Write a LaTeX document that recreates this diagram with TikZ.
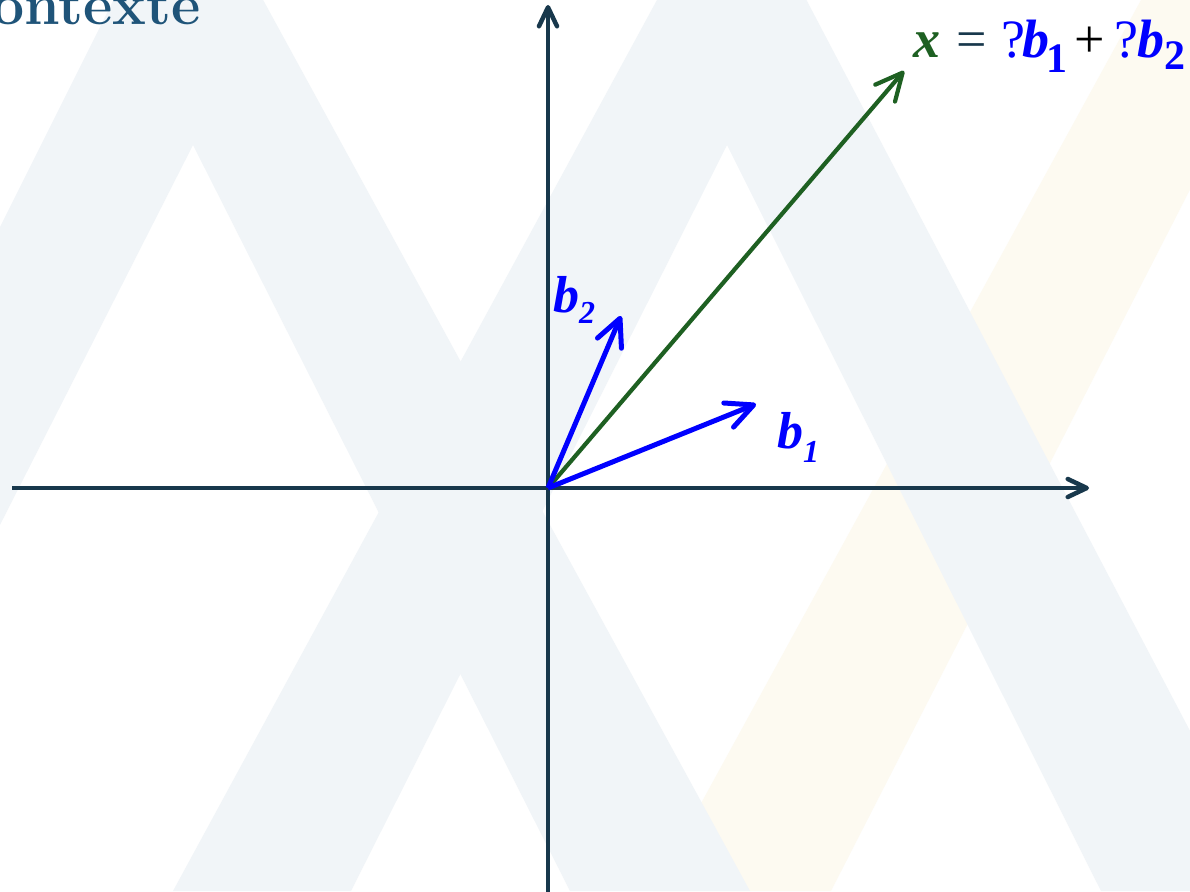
\documentclass[tikz,border=0pt]{standalone}
\usepackage{fontspec}
\newfontfamily\tnr{Liberation Serif}
\usetikzlibrary{arrows.meta}
\definecolor{navy}{RGB}{24,56,76}
\definecolor{vgreen}{RGB}{30,96,34}
\definecolor{vblue}{RGB}{0,0,255}
\definecolor{wmgray}{RGB}{241,245,248}
\definecolor{wmyellow}{RGB}{253,250,241}
\definecolor{titleblue}{RGB}{31,84,121}
\newcommand{\putat}[2]{\rlap{\hspace{#1}#2}}
\begin{document}
\begin{tikzpicture}[x=1pt,y=-1pt,
  axis/.style={draw=navy,line width=4.5pt,-{Straight Barb[length=19pt,width=18pt,round]}},
  vec/.style={line width=5pt,-{Straight Barb[length=27pt,width=26pt,round]}},
  lbl/.style={inner sep=0pt,anchor=base west,font=\tnr\bfseries\itshape}]
\useasboundingbox (0,0) rectangle (1190,891);
\begin{scope}
\clip (0,0) rectangle (1190,891);
\fill[white] (0,0) rectangle (1190,891);
\fill[wmyellow] (653,891) -- (1141,0) -- (1287,0) -- (831,891) -- cycle;
\fill[wmgray] (-332,891) -- (185,-143) -- (750,891) -- (570,891) -- (193,145) -- (-186,891) -- cycle;
\fill[wmgray] (173,891) -- (733,-140) -- (1274,891) -- (1101,891) -- (727,145) -- (351,891) -- cycle;
\end{scope}
\node[inner sep=0pt,anchor=base east,text=titleblue,font=\bfseries\fontsize{57}{60}\selectfont\addfontfeatures{FakeBold=1.2}] (title) at (201,25) {Contexte};
\coordinate (O) at (548,488);
\coordinate (xL) at (12,488);
\coordinate (xR) at (1089,488);
\coordinate (yB) at (548,893);
\coordinate (yT) at (548,5);
\coordinate (B1) at (756,404);
\coordinate (B2) at (621,316);
\coordinate (X) at (904,71);
\draw[axis] (xL) -- (xR);
\draw[axis] (yB) -- (yT);
\draw[vec,draw=vgreen,line width=4.2pt] (O) -- (X);
\draw[vec,draw=vblue] (O) -- (B1);
\draw[vec,draw=vblue] (O) -- (B2);
\node[lbl,text=vblue] (lb1) at (777,448) {\fontsize{52}{52}\selectfont b\raisebox{-14pt}{\fontsize{32}{32}\selectfont 1}};
\node[lbl,text=vblue] (lb2) at (553,312) {\fontsize{52}{52}\selectfont b\raisebox{-11pt}{\fontsize{32}{32}\selectfont 2}};
\node[lbl] (eq) at (913,58) {\fontsize{54}{54}\selectfont
\putat{0pt}{\textcolor{vgreen}{x}}%
\putat{43pt}{\textcolor{navy}{\upshape\mdseries =}}%
\putat{88pt}{\textcolor{vblue}{\upshape\mdseries ?}}%
\putat{109pt}{\textcolor{vblue}{b}}%
\putat{133pt}{\raisebox{-14pt}{\textcolor{vblue}{\upshape\fontsize{42}{42}\selectfont 1}}}%
\putat{161pt}{\textcolor{black}{\upshape\mdseries +}}%
\putat{201pt}{\textcolor{vblue}{\upshape\mdseries ?}}%
\putat{224pt}{\textcolor{vblue}{b}}%
\putat{251pt}{\raisebox{-12pt}{\textcolor{vblue}{\upshape\fontsize{42}{42}\selectfont 2}}}%
\hspace{268pt}};
\end{tikzpicture}
\end{document}
